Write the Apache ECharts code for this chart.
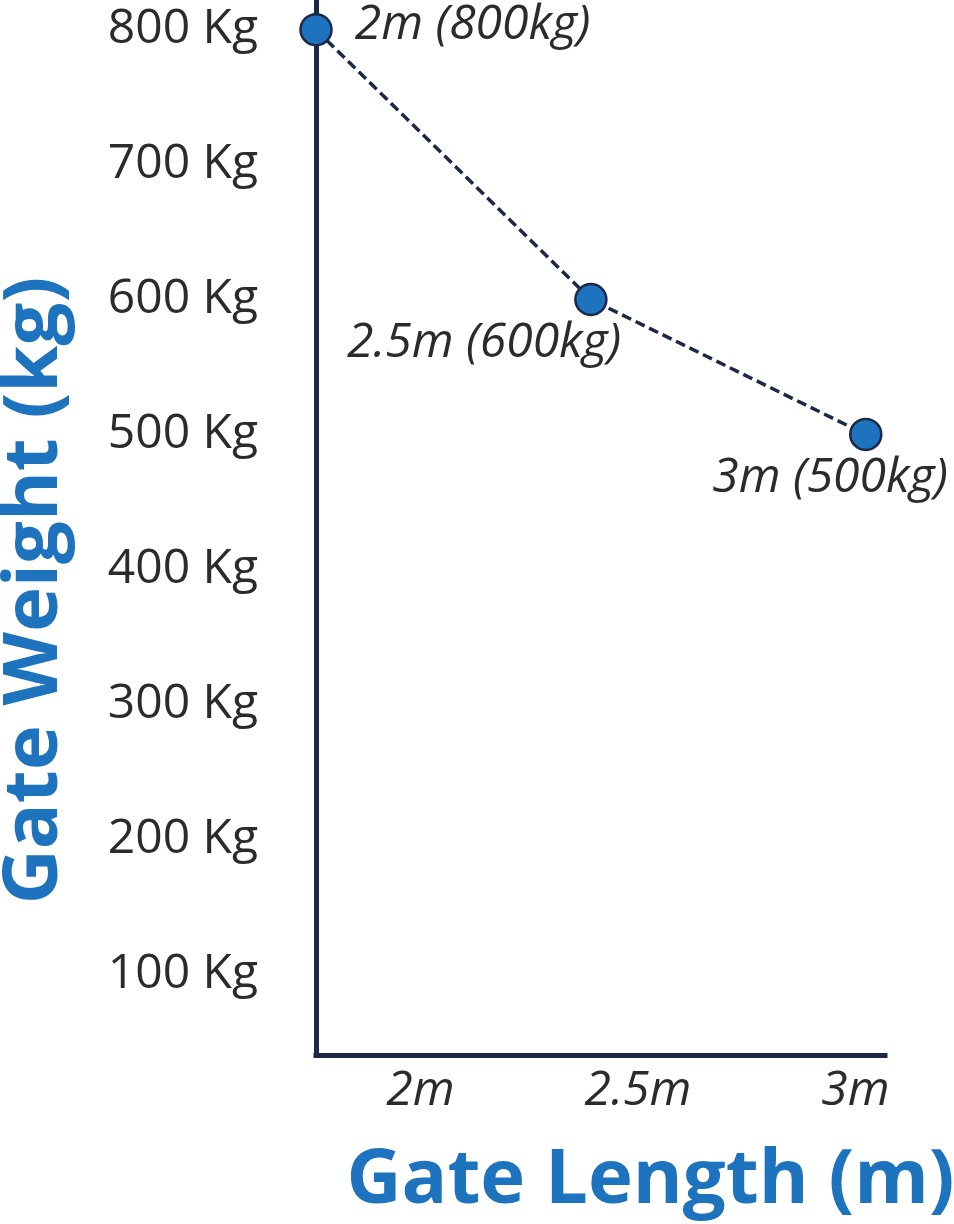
<!DOCTYPE html>
<html><head><meta charset="utf-8">
<script src="https://cdn.jsdelivr.net/npm/echarts@6/dist/echarts.min.js"></script>
<style>html,body{margin:0;padding:0;background:#fff}#c{width:954px;height:1224px}</style>
</head><body><div id="c"></div>
<script>
// ---- data ----
const gateLengths = [2, 2.5, 3];          // m
const gateWeights = [800, 600, 500];      // kg
const xTickValues = [2, 2.5, 3];
const xTickLabels = ['2m', '2.5m', '3m'];
const yTickValues = [100, 200, 300, 400, 500, 600, 700, 800];
const yTickLabels = ['100 Kg', '200 Kg', '300 Kg', '400 Kg', '500 Kg', '600 Kg', '700 Kg', '800 Kg'];

const FONT = "'Open Sans', sans-serif";
const NAVY = '#1c2946';
const BLUE = '#1e73be';
const TEXT = '#2b2b2b';

function matchTick(values, v) {
  for (let i = 0; i < values.length; i++) if (Math.abs(values[i] - v) < 1e-6) return i;
  return -1;
}

const pointLabels = [
  { position: 'right', distance: 22, offset: [0, -4] },
  { position: 'left', distance: 5, offset: [52, 44] },
  { position: 'left', distance: 5, offset: [104, 44] }
];

const chart = echarts.init(document.getElementById('c'), null, { renderer: 'canvas' });
chart.setOption({
  animation: false,
  backgroundColor: '#ffffff',
  grid: { left: 316, right: 69, top: 0, bottom: 169, containLabel: false, outerBoundsMode: 'none' },
  xAxis: [
    { type: 'value', min: 2, max: 3.035, show: false, position: 'bottom' },
    {
      type: 'value', min: 1.76, max: 3.068, interval: 0.02, position: 'bottom',
      axisLine: { show: true, onZero: false, lineStyle: { color: NAVY, width: 5, cap: 'square' } },
      axisTick: { show: false }, splitLine: { show: false },
      axisLabel: {
        show: true, margin: 12, fontFamily: FONT, fontStyle: 'italic', fontSize: 48, color: TEXT,
        formatter: v => { const i = matchTick(xTickValues, v); return i >= 0 ? xTickLabels[i] : ''; }
      },
      name: 'Gate Length (m)', nameLocation: 'middle', nameGap: 88,
      nameTextStyle: { fontFamily: FONT, fontWeight: 'bold', fontSize: 76, color: BLUE, padding: [0, 0, 0, 100] }
    }
  ],
  yAxis: {
    type: 'value', min: 40, max: 822, interval: 20,
    axisLine: { show: true, onZero: false, lineStyle: { color: NAVY, width: 5, cap: 'square' } },
    axisTick: { show: false }, splitLine: { show: false },
    axisLabel: {
      show: true, margin: 58, fontFamily: FONT, fontSize: 48, color: TEXT,
      formatter: v => { const i = matchTick(yTickValues, v); return i >= 0 ? yTickLabels[i] : ''; }
    },
    name: 'Gate Weight (kg)', nameLocation: 'middle', nameGap: 243,
    nameTextStyle: { fontFamily: FONT, fontWeight: 'bold', fontSize: 76, color: BLUE, padding: [0, 126, 0, 0] }
  },
  series: [{
    type: 'line', xAxisIndex: 0, yAxisIndex: 0,
    symbol: 'circle', symbolSize: 31,
    itemStyle: { color: BLUE, borderColor: NAVY, borderWidth: 2.5 },
    lineStyle: { color: NAVY, width: 3.5, type: [10, 5] },
    label: {
      show: true, fontFamily: FONT, fontStyle: 'italic', fontSize: 48, color: TEXT,
      formatter: p => gateLengths[p.dataIndex] + 'm (' + gateWeights[p.dataIndex] + 'kg)'
    },
    data: gateLengths.map((x, i) => ({ value: [x, gateWeights[i]], label: pointLabels[i] }))
  }]
});
</script></body></html>
